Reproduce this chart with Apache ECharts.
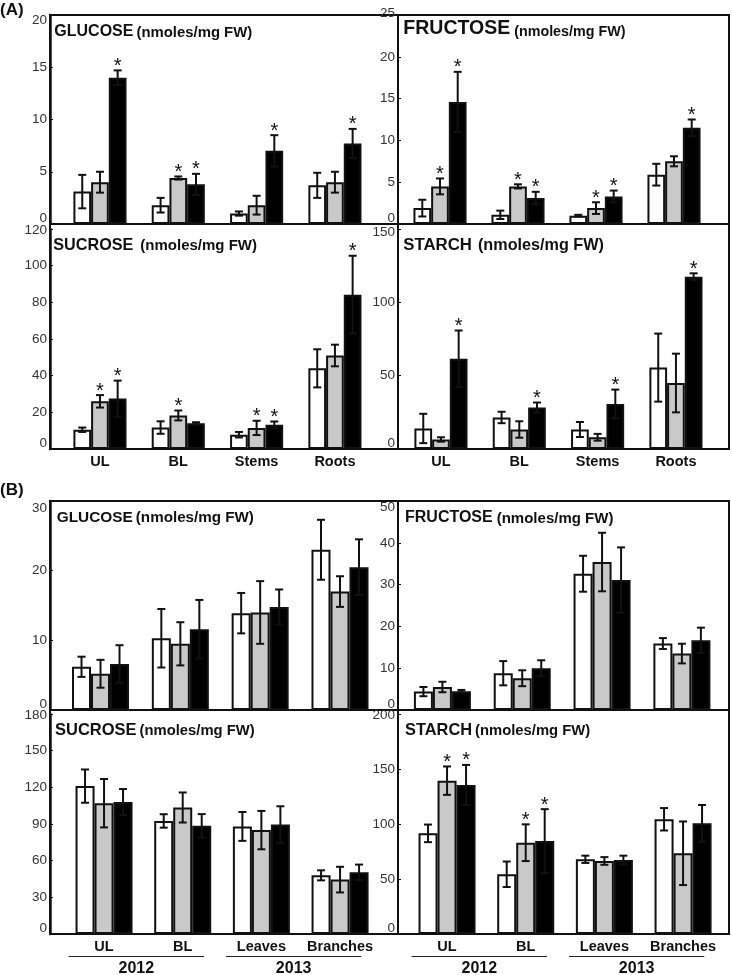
<!DOCTYPE html>
<html><head><meta charset="utf-8">
<script src="https://cdn.jsdelivr.net/npm/echarts@6/dist/echarts.min.js"></script>
<style>html,body{margin:0;padding:0;background:#fff}#c{width:732px;height:975px}</style>
</head><body><div id="c"></div>
<script>
// ---------- DATA ----------
const categoriesA = ['UL', 'BL', 'Stems', 'Roots'];
const categoriesB = ['UL', 'BL', 'Leaves', 'Branches'];
const yearLabels = ['2012', '2013'];
const yearGroups = [[0, 1], [2, 3]];
const panelLetters = ['(A)', '(B)'];

// (A) GLUCOSE
const glucoseA_white = [3.1, 1.8, 1.0, 3.7];
const glucoseA_gray  = [4.0, 4.4, 1.8, 4.0];
const glucoseA_black = [14.0, 3.8, 7.0, 7.7];
const glucoseA_whiteErr = [1.6, 0.7, 0.2, 1.2];
const glucoseA_grayErr  = [1.0, 0.15, 0.9, 1.0];
const glucoseA_blackErr = [0.7, 1.0, 1.5, 1.4];
const glucoseA_whiteStar = [0, 0, 0, 0];
const glucoseA_grayStar  = [0, 1, 0, 0];
const glucoseA_blackStar = [1, 1, 1, 1];

// (A) FRUCTOSE
const fructoseA_white = [1.9, 1.1, 1.0, 5.9];
const fructoseA_gray  = [4.5, 4.5, 1.9, 7.5];
const fructoseA_black = [14.6, 3.1, 3.3, 11.5];
const fructoseA_whiteErr = [1.0, 0.5, 0.1, 1.3];
const fructoseA_grayErr  = [0.95, 0.25, 0.7, 0.6];
const fructoseA_blackErr = [3.6, 0.75, 0.7, 1.0];
const fructoseA_whiteStar = [0, 0, 0, 0];
const fructoseA_grayStar  = [1, 1, 1, 0];
const fructoseA_blackStar = [1, 1, 1, 1];

// (A) SUCROSE
const sucroseA_white = [10.5, 11.7, 7.8, 44];
const sucroseA_gray  = [26, 18.3, 11.5, 51];
const sucroseA_black = [27.5, 14, 13.2, 84.2];
const sucroseA_whiteErr = [1.2, 3.4, 1.5, 10.4];
const sucroseA_grayErr  = [3.4, 2.7, 3.9, 5.9];
const sucroseA_blackErr = [9.8, 0.6, 1.8, 21.2];
const sucroseA_whiteStar = [0, 0, 0, 0];
const sucroseA_grayStar  = [1, 1, 1, 0];
const sucroseA_blackStar = [1, 0, 1, 1];

// (A) STARCH
const starchA_white = [14, 21.5, 13.3, 55.5];
const starchA_gray  = [6.5, 13.3, 8, 45];
const starchA_black = [61.5, 28.3, 30.7, 117.5];
const starchA_whiteErr = [10, 3.9, 5.1, 23.2];
const starchA_grayErr  = [1.5, 5.6, 2.3, 20];
const starchA_blackErr = [19.3, 3.4, 9.8, 2.3];
const starchA_whiteStar = [0, 0, 0, 0];
const starchA_grayStar  = [0, 0, 0, 0];
const starchA_blackStar = [1, 1, 1, 1];

// (B) GLUCOSE
const glucoseB_white = [6.2, 10.3, 13.9, 23.0];
const glucoseB_gray  = [5.2, 9.5, 14.0, 17.0];
const glucoseB_black = [6.6, 11.6, 14.8, 20.5];
const glucoseB_whiteErr = [1.45, 4.2, 2.9, 4.3];
const glucoseB_grayErr  = [2.0, 3.1, 4.5, 2.2];
const glucoseB_blackErr = [2.7, 4.2, 2.5, 4.0];
const glucoseB_whiteStar = [0, 0, 0, 0];
const glucoseB_grayStar  = [0, 0, 0, 0];
const glucoseB_blackStar = [0, 0, 0, 0];

// (B) FRUCTOSE
const fructoseB_white = [4.4, 8.8, 32.6, 15.9];
const fructoseB_gray  = [5.5, 7.6, 35.4, 13.5];
const fructoseB_black = [4.5, 10.0, 31.1, 16.7];
const fructoseB_whiteErr = [1.1, 2.9, 4.3, 1.3];
const fructoseB_grayErr  = [1.25, 1.9, 7.0, 2.35];
const fructoseB_blackErr = [0.3, 1.9, 7.8, 3.0];
const fructoseB_whiteStar = [0, 0, 0, 0];
const fructoseB_grayStar  = [0, 0, 0, 0];
const fructoseB_blackStar = [0, 0, 0, 0];

// (B) SUCROSE
const sucroseB_white = [121, 92.5, 88, 48];
const sucroseB_gray  = [107, 103.5, 85, 44.5];
const sucroseB_black = [108, 88.5, 89.5, 50.5];
const sucroseB_whiteErr = [13.6, 5.5, 11.8, 4.1];
const sucroseB_grayErr  = [19.8, 12.3, 15.7, 10.5];
const sucroseB_blackErr = [10.6, 9.6, 15, 6.3];
const sucroseB_whiteStar = [0, 0, 0, 0];
const sucroseB_grayStar  = [0, 0, 0, 0];
const sucroseB_blackStar = [0, 0, 0, 0];

// (B) STARCH
const starchB_white = [91.5, 54.3, 67.9, 104.3];
const starchB_gray  = [139.4, 83, 66.4, 73.4];
const starchB_black = [135.5, 84.5, 67.3, 100.6];
const starchB_whiteErr = [8, 11.6, 3.3, 10.2];
const starchB_grayErr  = [12.9, 16.7, 3.5, 28.9];
const starchB_blackErr = [18.2, 29, 3.9, 16.7];
const starchB_whiteStar = [0, 0, 0, 0];
const starchB_grayStar  = [1, 1, 0, 0];
const starchB_blackStar = [1, 1, 0, 0];

const panelTitles = ['GLUCOSE', 'FRUCTOSE', 'SUCROSE', 'STARCH', 'GLUCOSE', 'FRUCTOSE', 'SUCROSE', 'STARCH'];
const unitLabel = '(nmoles/mg FW)';
const axisMax  = [20, 25, 120, 150, 30, 50, 180, 200];
const axisStep = [5, 5, 20, 50, 10, 10, 30, 50];

const panelData = [
  {cats: categoriesA, vals: [glucoseA_white, glucoseA_gray, glucoseA_black], errs: [glucoseA_whiteErr, glucoseA_grayErr, glucoseA_blackErr], stars: [glucoseA_whiteStar, glucoseA_grayStar, glucoseA_blackStar]},
  {cats: categoriesA, vals: [fructoseA_white, fructoseA_gray, fructoseA_black], errs: [fructoseA_whiteErr, fructoseA_grayErr, fructoseA_blackErr], stars: [fructoseA_whiteStar, fructoseA_grayStar, fructoseA_blackStar]},
  {cats: categoriesA, vals: [sucroseA_white, sucroseA_gray, sucroseA_black], errs: [sucroseA_whiteErr, sucroseA_grayErr, sucroseA_blackErr], stars: [sucroseA_whiteStar, sucroseA_grayStar, sucroseA_blackStar]},
  {cats: categoriesA, vals: [starchA_white, starchA_gray, starchA_black], errs: [starchA_whiteErr, starchA_grayErr, starchA_blackErr], stars: [starchA_whiteStar, starchA_grayStar, starchA_blackStar]},
  {cats: categoriesB, vals: [glucoseB_white, glucoseB_gray, glucoseB_black], errs: [glucoseB_whiteErr, glucoseB_grayErr, glucoseB_blackErr], stars: [glucoseB_whiteStar, glucoseB_grayStar, glucoseB_blackStar]},
  {cats: categoriesB, vals: [fructoseB_white, fructoseB_gray, fructoseB_black], errs: [fructoseB_whiteErr, fructoseB_grayErr, fructoseB_blackErr], stars: [fructoseB_whiteStar, fructoseB_grayStar, fructoseB_blackStar]},
  {cats: categoriesB, vals: [sucroseB_white, sucroseB_gray, sucroseB_black], errs: [sucroseB_whiteErr, sucroseB_grayErr, sucroseB_blackErr], stars: [sucroseB_whiteStar, sucroseB_grayStar, sucroseB_blackStar]},
  {cats: categoriesB, vals: [starchB_white, starchB_gray, starchB_black], errs: [starchB_whiteErr, starchB_grayErr, starchB_blackErr], stars: [starchB_whiteStar, starchB_grayStar, starchB_blackStar]}
];

// ---------- LAYOUT / STYLE ----------
const FONT = 'Arial, "Liberation Sans", Helvetica, sans-serif';
const barColors = ['#ffffff', '#c9c9c9', '#000000'];
// frame: [left, top, width, height]; grid: [left, top, width, height]
const panelLayout = [
  {frame: [50, 15, 348, 209],  grid: [60.8, 15, 313.3, 209],  barW: 17.7, axisW: 2.5, cats: false, maxShift: 5,  years: false, t: [54.3, 30, 16, 14.9, 3]},
  {frame: [398, 15, 331, 209], grid: [401, 15, 312, 209],     barW: 17.7, axisW: 1.5, cats: false, maxShift: -2, years: false, t: [403.3, 29, 19.5, 14.3, 4]},
  {frame: [50, 224, 348, 225], grid: [60.8, 229, 313.3, 220], barW: 17.7, axisW: 2.5, cats: true,  maxShift: 1,  years: false, t: [53.3, 243.5, 16.2, 15, 7]},
  {frame: [398, 224, 331, 225], grid: [401.8, 229, 313.3, 220], barW: 17.7, axisW: 1.5, cats: true, maxShift: 3, years: false, t: [403.3, 243.5, 16.8, 16.2, 6]},
  {frame: [50, 501, 348, 209], grid: [60.6, 501, 319.3, 209], barW: 19, axisW: 2.5, cats: false, maxShift: 7, years: false, t: [56.7, 515, 15.4, 15.2, 3]},
  {frame: [398, 501, 331, 209], grid: [402.5, 501, 319.3, 209], barW: 19, axisW: 1.5, cats: false, maxShift: 6, years: false, t: [405, 516, 16, 15, 4]},
  {frame: [50, 710, 348, 224], grid: [64.7, 714, 314.7, 220], barW: 19, axisW: 2.5, cats: true,  maxShift: 1,  years: true,  t: [55, 728.5, 16.5, 14.8, 3]},
  {frame: [398, 710, 331, 224], grid: [407.7, 714, 314.7, 220], barW: 19, axisW: 1.5, cats: true, maxShift: 1, years: true,  t: [405, 728, 16.4, 14.8, 3]}
];
const letterPos = [[0, 2], [0, 482]];

// ---------- BUILD ----------
const grids = [], xAxes = [], yAxes = [], series = [], titles = [];

panelData.forEach((p, n) => {
  const L = panelLayout[n];
  const fi = grids.length;
  grids.push({left: L.frame[0], top: L.frame[1], width: L.frame[2], height: L.frame[3],
    show: true, borderColor: '#111', borderWidth: 2, backgroundColor: 'rgba(0,0,0,0)',
    containLabel: false, outerBoundsMode: 'none'});
  xAxes.push({gridIndex: fi, type: 'value', show: false});
  yAxes.push({gridIndex: fi, type: 'value', show: false});

  const di = grids.length;
  grids.push({left: L.grid[0], top: L.grid[1], width: L.grid[2], height: L.grid[3],
    containLabel: false, outerBoundsMode: 'none'});
  xAxes.push({gridIndex: di, type: 'category', data: p.cats,
    axisLine: {show: false}, axisTick: {show: false}, splitLine: {show: false},
    axisLabel: {show: L.cats, interval: 0, margin: 5, color: '#111', fontSize: 14.5, fontWeight: 'bold', fontFamily: FONT}});
  const mx = axisMax[n];
  const sh = L.maxShift;
  yAxes.push({gridIndex: di, type: 'value', min: 0, max: mx, interval: axisStep[n],
    offset: L.grid[0] - L.frame[0],
    axisLine: {show: true, lineStyle: {color: '#111', width: L.axisW}},
    axisTick: {show: true, inside: true, length: 3, lineStyle: {color: '#111', width: 1}},
    splitLine: {show: false},
    axisLabel: {show: true, showMinLabel: true, showMaxLabel: true, margin: 3, color: '#333', fontSize: 13.5, fontFamily: FONT,
      formatter: function (v) {
        if (v === mx) return '{mx|' + v + '}';
        if (v === 0) return '{mn|' + v + '}';
        return String(v);
      },
      rich: {
        mx: {color: '#333', fontSize: 13.5, fontFamily: FONT, padding: sh >= 0 ? [2 * sh, 0, 0, 0] : [0, 0, -2 * sh, 0]},
        mn: {color: '#333', fontSize: 13.5, fontFamily: FONT, padding: [0, 0, 11, 0]}
      }}});

  for (let k = 0; k < 3; k++) {
    series.push({type: 'bar', xAxisIndex: di, yAxisIndex: di, data: p.vals[k],
      barWidth: L.barW, barGap: '0%', silent: true, z: 2,
      itemStyle: {color: barColors[k], borderColor: '#111', borderWidth: 2}});
  }
  const errData = [];
  for (let k = 0; k < 3; k++) {
    for (let i = 0; i < p.cats.length; i++) {
      errData.push([i, p.vals[k][i], p.errs[k][i], k, p.stars[k][i]]);
    }
  }
  const bw = L.barW;
  series.push({type: 'custom', xAxisIndex: di, yAxisIndex: di, data: errData, z: 5, silent: true, clip: false,
    encode: {x: 0, y: 1},
    renderItem: function (params, api) {
      const i = api.value(0), v = api.value(1), e = api.value(2), k = api.value(3), s = api.value(4);
      const mid = api.coord([i, v]);
      const top = api.coord([i, v + e]);
      const bot = api.coord([i, Math.max(0, v - e)]);
      const x = mid[0] + (k - 1) * bw;
      const cap = 4;
      const st = {stroke: '#111', lineWidth: 2};
      const ch = [
        {type: 'line', shape: {x1: x, y1: top[1], x2: x, y2: bot[1]}, style: st},
        {type: 'line', shape: {x1: x - cap, y1: top[1], x2: x + cap, y2: top[1]}, style: st},
        {type: 'line', shape: {x1: x - cap, y1: bot[1], x2: x + cap, y2: bot[1]}, style: st}
      ];
      if (s) {
        ch.push({type: 'text', x: x, y: top[1] - 4,
          style: {text: '*', fill: '#111', fontSize: 20, fontFamily: FONT,
            align: 'center', verticalAlign: 'middle', textAlign: 'center', textVerticalAlign: 'middle'}});
      }
      return {type: 'group', children: ch};
    }});

  if (L.years) {
    series.push({type: 'custom', xAxisIndex: di, yAxisIndex: di, silent: true, clip: false, z: 5,
      data: yearGroups.map((g, j) => [g[0], g[1], j]),
      encode: {x: [0, 1]},
      renderItem: function (params, api) {
        const band = api.size([1, 0])[0];
        const a = api.coord([api.value(0), 0]);
        const b = api.coord([api.value(1), 0]);
        const x0 = a[0] - 0.45 * band, x1 = b[0] + 0.27 * band;
        const y = a[1] + 22.5;
        return {type: 'group', children: [
          {type: 'line', shape: {x1: x0, y1: y, x2: x1, y2: y}, style: {stroke: '#222', lineWidth: 1}},
          {type: 'text', x: (x0 + x1) / 2, y: y + 12,
            style: {text: yearLabels[api.value(2)], fill: '#111', fontSize: 16, fontWeight: 'bold', fontFamily: FONT,
              align: 'center', verticalAlign: 'middle', textAlign: 'center', textVerticalAlign: 'middle'}}
        ]};
      }});
  }

  titles.push({left: L.t[0], top: L.t[1] - 10, padding: 0,
    text: '{a|' + panelTitles[n] + '}{b|' + unitLabel + '}',
    textStyle: {rich: {
      a: {fontSize: L.t[2], fontWeight: 'bold', color: '#111', fontFamily: FONT, lineHeight: 20, verticalAlign: 'bottom'},
      b: {fontSize: L.t[3], fontWeight: 'bold', color: '#111', fontFamily: FONT, lineHeight: 20, verticalAlign: 'bottom', padding: [0, 0, 0, L.t[4]]}
    }}});
});

panelLetters.forEach((s, j) => {
  titles.push({left: letterPos[j][0], top: letterPos[j][1], padding: 0, text: s,
    textStyle: {fontSize: 17, fontWeight: 'bold', color: '#111', fontFamily: FONT}});
});

const chart = echarts.init(document.getElementById('c'), null, {renderer: 'canvas'});
chart.setOption({
  animation: false,
  backgroundColor: '#fff',
  title: titles,
  grid: grids,
  xAxis: xAxes,
  yAxis: yAxes,
  series: series
});
</script>
</body></html>
